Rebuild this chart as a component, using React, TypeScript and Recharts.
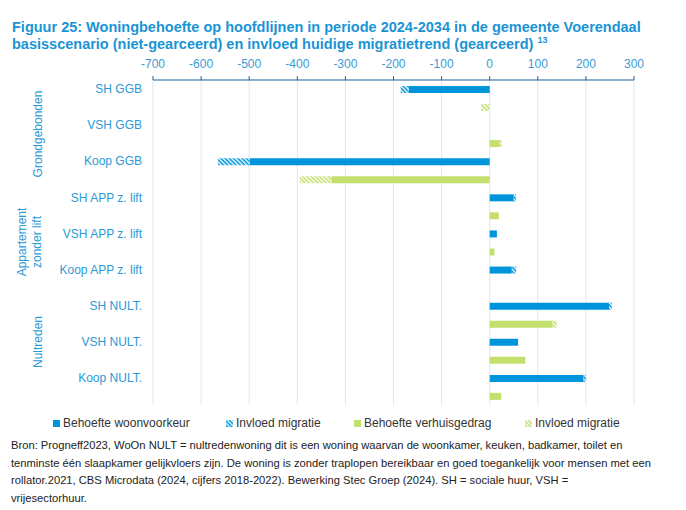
import React from 'react';
import { BarChart, Bar, XAxis, YAxis, CartesianGrid } from 'recharts';

const categories = [
  'SH GGB',
  'VSH GGB',
  'Koop GGB',
  'SH APP z. lift',
  'VSH APP z. lift',
  'Koop APP z. lift',
  'SH NULT.',
  'VSH NULT.',
  'Koop NULT.',
];
const woonvoorkeur = [-168, 0, -499, 50, 15, 46, 248, 59, 195];
const woonvoorkeurMigratie = [-17, 0, -66, 5, 0, 9, 6, 0, 5];
const verhuisgedrag = [0, 21, -329, 19, 10, 0, 131, 74, 24];
const verhuisgedragMigratie = [-18, 4, -66, 0, 0, 0, 9, 0, 0];
const xTicks = [-700, -600, -500, -400, -300, -200, -100, 0, 100, 200, 300];
const groupLabels = [
  { lines: ['Grondgebonden'], y: 134, x: [38] },
  { lines: ['Appartement', 'zonder lift'], y: 242, x: [22, 37] },
  { lines: ['Nultreden'], y: 342, x: [38] },
];
const legendItems = [
  { label: 'Behoefte woonvoorkeur', fill: '#0095da', left: 53 },
  { label: 'Invloed migratie', fill: 'url(#hatchBlue)', left: 226 },
  { label: 'Behoefte verhuisgedrag', fill: '#c3e06c', left: 354 },
  { label: 'Invloed migratie', fill: 'url(#hatchGreen)', left: 525 },
];

const BLUE = '#0095da';
const GREEN = '#c3e06c';
const TEXT_BLUE = '#2a9ad6';
const FONT = '"Liberation Sans", Arial, sans-serif';

const data = categories.map((name, i) => ({
  name,
  wv: woonvoorkeur[i],
  wvm: woonvoorkeurMigratie[i],
  vg: verhuisgedrag[i],
  vgm: verhuisgedragMigratie[i],
}));

const CatTick = (props: any) => {
  const { x, y, payload } = props;
  return (
    <text x={x} y={y - 9} dy="0.35em" textAnchor="end" fill={TEXT_BLUE} fontSize={12} fontFamily={FONT}>
      {payload.value}
    </text>
  );
};

export default function App() {
  return (
    <div style={{ position: 'absolute', left: 0, top: 0, width: 686, height: 510, background: '#fff', fontFamily: FONT }}>
      <svg width="0" height="0" style={{ position: 'absolute' }}>
        <defs>
          <pattern id="hatchBlue" width="3" height="3" patternUnits="userSpaceOnUse" patternTransform="rotate(45)">
            <rect width="3" height="3" fill="#ffffff" />
            <rect width="3" height="1.6" fill={BLUE} />
          </pattern>
          <pattern id="hatchGreen" width="3" height="3" patternUnits="userSpaceOnUse" patternTransform="rotate(45)">
            <rect width="3" height="3" fill="#ffffff" />
            <rect width="3" height="1.6" fill={GREEN} />
          </pattern>
        </defs>
      </svg>

      <div
        style={{
          position: 'absolute',
          left: 12,
          top: 19,
          color: '#1a94d4',
          fontWeight: 700,
          fontSize: 14.5,
          lineHeight: '17px',
          whiteSpace: 'nowrap',
          fontFamily: FONT,
        }}
      >
        Figuur 25: Woningbehoefte op hoofdlijnen in periode 2024-2034 in de gemeente Voerendaal
        <br />
        basisscenario (niet-gearceerd) en invloed huidige migratietrend (gearceerd){' '}
        <span style={{ fontSize: 9, verticalAlign: 'super', lineHeight: 0 }}>13</span>
      </div>

      <div style={{ position: 'absolute', left: 0, top: 0 }}>
        <BarChart
          width={686}
          height={420}
          data={data}
          layout="vertical"
          margin={{ top: 50, right: 52, bottom: 15, left: 13 }}
          barSize={7}
          barGap={11}
        >
          <CartesianGrid horizontal={false} vertical={true} stroke="#d9e8f4" strokeWidth={1} />
          <XAxis
            type="number"
            orientation="top"
            domain={[-700, 300]}
            ticks={xTicks}
            interval={0}
            height={30}
            tickSize={4}
            tickMargin={8}
            axisLine={{ stroke: '#1f6399', strokeWidth: 1.2 }}
            tickLine={{ stroke: '#1f6399' }}
            tick={{ fill: '#3a9bd6', fontSize: 12, fontFamily: FONT }}
          />
          <YAxis
            type="category"
            dataKey="name"
            width={140}
            axisLine={false}
            tickLine={false}
            tickSize={0}
            tickMargin={11}
            interval={0}
            tick={<CatTick />}
          />
          <Bar dataKey="wv" stackId="a" fill={BLUE} isAnimationActive={false} />
          <Bar dataKey="wvm" stackId="a" fill="url(#hatchBlue)" isAnimationActive={false} />
          <Bar dataKey="vg" stackId="b" fill={GREEN} isAnimationActive={false} />
          <Bar dataKey="vgm" stackId="b" fill="url(#hatchGreen)" isAnimationActive={false} />
        </BarChart>
      </div>

      <svg width={686} height={510} style={{ position: 'absolute', left: 0, top: 0, pointerEvents: 'none' }}>
        {groupLabels.map((g, gi) =>
          g.lines.map((line, li) => (
            <text
              key={gi + '-' + li}
              x={g.x[li]}
              y={g.y}
              transform={`rotate(-90 ${g.x[li]} ${g.y})`}
              textAnchor="middle"
              dy="0.35em"
              fill={TEXT_BLUE}
              fontSize={12}
              fontFamily={FONT}
            >
              {line}
            </text>
          ))
        )}
      </svg>

      {legendItems.map((item, i) => (
        <div
          key={i}
          style={{
            position: 'absolute',
            left: item.left,
            top: 415,
            height: 16,
            display: 'flex',
            alignItems: 'center',
            fontSize: 12,
            color: '#333',
            whiteSpace: 'nowrap',
          }}
        >
          <svg width={7} height={7} style={{ marginRight: 3 }}>
            <rect width={7} height={7} fill={item.fill} />
          </svg>
          {item.label}
        </div>
      ))}

      <div
        style={{
          position: 'absolute',
          left: 11,
          top: 437,
          fontSize: 11.2,
          lineHeight: '17.6px',
          color: '#222',
          whiteSpace: 'nowrap',
        }}
      >
        Bron: Progneff2023, WoOn NULT = nultredenwoning dit is een woning waarvan de woonkamer, keuken, badkamer, toilet en
        <br />
        tenminste één slaapkamer gelijkvloers zijn. De woning is zonder traplopen bereikbaar en goed toegankelijk voor mensen met een
        <br />
        rollator.2021, CBS Microdata (2024, cijfers 2018-2022). Bewerking Stec Groep (2024). SH = sociale huur, VSH =
        <br />
        vrijesectorhuur.
      </div>
    </div>
  );
}
